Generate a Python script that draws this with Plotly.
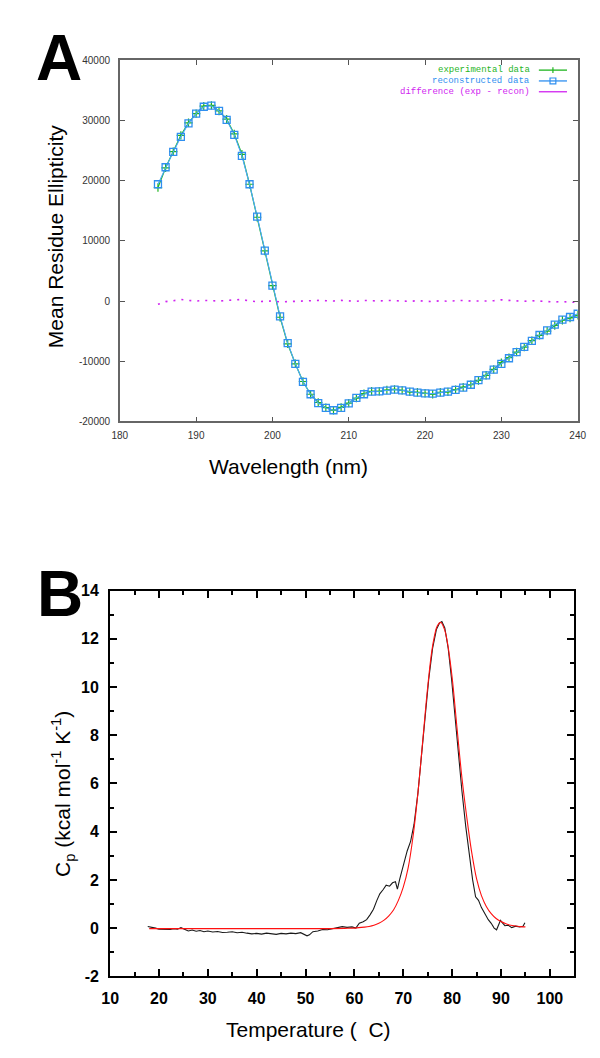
import plotly.graph_objects as go

# ---------------- Panel A data (CD spectrum) ----------------
wavelength = list(range(185, 241))
recon = [19400, 22230, 24780, 27280, 29510, 31140, 32280, 32450, 31580, 30110,
         27610, 24130, 19400, 14020, 8370, 2550, -2550, -7010, -10430, -13420,
         -15490, -16960, -17770, -18150, -17770, -17010, -16090, -15490, -15050, -15000,
         -14890, -14730, -14840, -15050, -15220, -15330, -15380, -15220, -15050, -14780,
         -14400, -13910, -13150, -12340, -11410, -10430, -9510, -8480, -7610, -6630,
         -5650, -4890, -3910, -3100, -2660, -2120]
difference = [-550, -100, 50, 250, 100, 0, 100, 50, 0, 100,
              150, 250, 0, -100, -50, 0, -150, -100, 0, 50,
              0, 100, 50, 0, 100, 50, -50, 100, 50, 0,
              100, 50, 0, -50, 50, 0, -100, 50, -50, 50,
              100, 0, -50, 0, 50, 200, 100, 0, -50, 50,
              -50, -100, -150, -100, -150, -250]
experimental = [18850, 22130, 24830, 27530, 29610, 31140, 32380, 32500, 31580, 30210,
                27760, 24380, 19400, 13920, 8320, 2550, -2700, -7110, -10430, -13370,
                -15490, -16860, -17720, -18150, -17670, -16960, -16140, -15390, -15000, -15000,
                -14790, -14680, -14840, -15100, -15170, -15330, -15480, -15170, -15100, -14730,
                -14300, -13910, -13200, -12340, -11360, -10230, -9410, -8480, -7660, -6580,
                -5700, -4990, -4060, -3200, -2810, -2370]

a_xticks = [180, 190, 200, 210, 220, 230, 240]
a_yticks = [-20000, -10000, 0, 10000, 20000, 30000, 40000]
a_yticklabels = ["-20000", "-10000", "0", "10000", "20000", "30000", "40000"]

# ---------------- Panel B data (DSC) ----------------
temp_exp = [17.7, 18.5, 19.3, 20.0, 20.8, 21.5, 22.3, 23.0, 23.8, 24.5, 25.3, 26.0, 26.8, 27.6,
            28.4, 29.2, 30.0, 31.0, 32.0, 33.0, 34.0, 35.0, 36.0, 37.0, 38.0, 39.0, 40.0, 41.0,
            42.0, 43.0, 44.0, 45.0, 46.0, 47.0, 48.0, 49.0, 49.8, 50.3, 50.8, 51.5, 52.5, 53.5,
            54.5, 55.5, 56.5, 57.5, 58.5, 59.5, 60.3, 61.0, 61.8, 62.5, 63.2, 63.9, 64.6, 65.2,
            65.9, 66.5, 67.2, 67.8, 68.4, 68.8, 69.3, 70.0, 70.8, 71.5, 72.2, 73.0, 73.8, 74.5,
            75.2, 76.0, 76.8, 77.4, 77.9, 78.5, 79.2, 79.9, 80.6, 81.3, 82.0, 82.8, 83.5, 84.2,
            84.8, 85.4, 86.0, 86.7, 87.4, 88.0, 88.6, 89.1, 89.5, 89.9, 90.3, 90.8, 91.5, 92.2,
            93.0, 93.8, 94.5, 94.9]
cp_exp = [0.07, 0.05, 0.0, -0.05, -0.06, -0.04, -0.06, -0.03, -0.05, 0.02, -0.06, -0.12, -0.08, -0.13,
          -0.10, -0.15, -0.12, -0.16, -0.14, -0.18, -0.17, -0.15, -0.19, -0.17, -0.21, -0.24, -0.22, -0.25,
          -0.21, -0.24, -0.26, -0.22, -0.24, -0.21, -0.23, -0.19, -0.25, -0.32, -0.28, -0.15, -0.12, -0.06,
          -0.07, -0.02, 0.0, 0.06, 0.03, 0.05, 0.0, 0.20, 0.26, 0.35, 0.55, 0.78, 1.15, 1.42,
          1.60, 1.78, 1.74, 1.88, 1.92, 1.62, 2.05, 2.60, 3.20, 3.60, 4.30, 5.60, 7.30, 8.90,
          10.3, 11.6, 12.4, 12.65, 12.72, 12.45, 11.6, 10.3, 8.7, 7.1, 5.7, 4.2, 3.0, 2.0,
          1.30, 1.15, 0.85, 0.60, 0.35, 0.20, 0.0, -0.07, 0.10, 0.32, 0.22, 0.10, 0.12, 0.02,
          0.08, 0.05, 0.08, 0.22]
temp_fit = [18, 25, 30, 35, 40, 45, 50, 55, 58, 60, 62, 63, 64, 65, 66, 67, 68, 69, 70, 71, 72, 73,
            74, 75, 76, 77, 77.7, 78.5, 79, 80, 81, 82, 83, 84, 85, 86, 87, 88, 89, 90, 91, 92,
            93, 94, 95]
cp_fit = [-0.02, -0.02, -0.02, -0.02, -0.02, -0.02, -0.02, -0.02, -0.01, 0.0, 0.04, 0.07, 0.12, 0.2,
          0.32, 0.5, 0.75, 1.15, 1.7, 2.5, 3.8, 5.6, 7.8, 10.0, 11.7, 12.55, 12.68, 12.35, 11.9,
          10.4, 8.3, 6.25, 4.6, 3.15, 2.05, 1.35, 0.9, 0.6, 0.4, 0.27, 0.18, 0.12, 0.09, 0.06, 0.05]

b_xticks = [10, 20, 30, 40, 50, 60, 70, 80, 90, 100]
b_yticks = [-2, 0, 2, 4, 6, 8, 10, 12, 14]
b_yticklabels = ["-2", "0", "2", "4", "6", "8", "10", "12", "14"]

# ---------------- styles ----------------
W, H = 600, 1058
GREEN = "#1fb51f"
BLUE = "#2f8ff0"
BLUE_LINE = "#4aa6ff"
MAGENTA = "#d024f0"

def px(x):
    return x / W

def py(y):
    return 1 - y / H

fig = go.Figure()

fig.add_trace(go.Scatter(x=wavelength, y=experimental, mode="lines+markers",
                         line=dict(color=GREEN, width=1.2),
                         marker=dict(symbol="cross-thin", size=6, color=GREEN,
                                     line=dict(color=GREEN, width=1.2)),
                         xaxis="x", yaxis="y", showlegend=False))
fig.add_trace(go.Scatter(x=wavelength, y=recon, mode="lines+markers",
                         line=dict(color=BLUE_LINE, width=1.1),
                         marker=dict(symbol="square-open", size=7, color=BLUE,
                                     line=dict(color=BLUE, width=1.3)),
                         xaxis="x", yaxis="y", showlegend=False))
fig.add_trace(go.Scatter(x=wavelength, y=difference, mode="lines",
                         line=dict(color=MAGENTA, width=1.6, dash="2px,6px"),
                         xaxis="x", yaxis="y", showlegend=False))

fig.add_trace(go.Scatter(x=temp_exp, y=cp_exp, mode="lines",
                         line=dict(color="#1a1a1a", width=1.1),
                         xaxis="x2", yaxis="y2", showlegend=False))
fig.add_trace(go.Scatter(x=temp_fit, y=cp_fit, mode="lines", line_shape="spline",
                         line=dict(color="#ff1010", width=1.1),
                         xaxis="x2", yaxis="y2", showlegend=False))

a_tickfont = dict(family="Liberation Sans", size=10, color="#333333")
b_tickfont = dict(family="Liberation Sans", size=16, color="#000000", weight="bold")

fig.update_layout(
    width=W, height=H, margin=dict(l=0, r=0, t=0, b=0),
    paper_bgcolor="white", plot_bgcolor="white", showlegend=False,
    xaxis=dict(domain=[px(106), px(578)], anchor="y", range=[180, 240],
               tickvals=a_xticks, ticks="inside", ticklen=5, tickcolor="#555",
               showline=True, linecolor="#666", linewidth=1.5, mirror="allticks",
               showgrid=False, zeroline=False, tickfont=a_tickfont, ticklabelstandoff=4),
    yaxis=dict(domain=[py(412), py(45)], anchor="x", range=[-20000, 40000],
               tickvals=a_yticks, ticktext=a_yticklabels, ticks="inside", ticklen=5,
               tickcolor="#555", showline=True, linecolor="#666", linewidth=1.5,
               mirror="allticks", showgrid=False, zeroline=False, tickfont=a_tickfont,
               ticklabelstandoff=6),
    xaxis2=dict(domain=[px(96), px(574)], anchor="y2", range=[10, 104.9],
                tickvals=b_xticks, ticks="inside", ticklen=7, tickwidth=2, tickcolor="#000",
                showline=True, linecolor="#000", linewidth=2, mirror="allticks",
                showgrid=False, zeroline=False, tickfont=b_tickfont, ticklabelstandoff=6,
                minor=dict(dtick=5, tick0=0, ticks="inside", ticklen=4, tickwidth=2,
                           tickcolor="#000", showgrid=False)),
    yaxis2=dict(domain=[py(976), py(584)], anchor="x2", range=[-2, 14],
                tickvals=b_yticks, ticktext=b_yticklabels, ticks="inside", ticklen=7,
                tickwidth=2, tickcolor="#000", showline=True, linecolor="#000",
                linewidth=2, mirror="allticks", showgrid=False, zeroline=False,
                tickfont=b_tickfont, ticklabelstandoff=6,
                minor=dict(dtick=1, tick0=0, ticks="inside", ticklen=4, tickwidth=2,
                           tickcolor="#000", showgrid=False)),
)

ann = []
# Panel letters
ann.append(dict(text="<b>A</b>", x=px(43), y=py(43), xref="paper", yref="paper",
                showarrow=False, font=dict(family="Liberation Sans", size=64, color="black"),
                xanchor="center", yanchor="middle"))
ann.append(dict(text="<b>B</b>", x=px(44), y=py(587), xref="paper", yref="paper",
                showarrow=False, font=dict(family="Liberation Sans", size=64, color="black"),
                xanchor="center", yanchor="middle"))
# Axis titles
title_font = dict(family="Liberation Sans", size=21, color="black")
ann.append(dict(text="Mean Residue Ellipticity", x=px(40), y=py(224), xref="paper",
                yref="paper", showarrow=False, textangle=-90, font=title_font,
                xanchor="center", yanchor="middle"))
ann.append(dict(text="Wavelength (nm)", x=px(280), y=py(458), xref="paper", yref="paper",
                showarrow=False, font=title_font, xanchor="center", yanchor="middle"))
ann.append(dict(text="C<sub>p</sub> (kcal mol<sup>-1</sup> K<sup>-1</sup>)", x=px(47),
                y=py(791), xref="paper", yref="paper", showarrow=False, textangle=-90,
                font=title_font, xanchor="center", yanchor="middle"))
ann.append(dict(text="Temperature (\u00a0\u00a0C)", x=px(301), y=py(1030), xref="paper",
                yref="paper", showarrow=False, font=title_font, xanchor="center",
                yanchor="middle"))

# Legend (gnuplot style: text then sample)
legend_items = [("experimental data", GREEN, 55), ("reconstructed data", BLUE, 66),
                ("difference (exp - recon)", MAGENTA, 77)]
shapes = []
for label, col, yy in legend_items:
    ann.append(dict(text=label, x=px(531), y=py(yy), xref="paper", yref="paper",
                    showarrow=False, xanchor="right", yanchor="middle",
                    font=dict(family="Liberation Mono", size=9, color=col)))
    shapes.append(dict(type="line", xref="paper", yref="paper", x0=px(538), x1=px(567),
                       y0=py(yy), y1=py(yy), line=dict(color=col, width=1.3)))
# legend sample markers
shapes.append(dict(type="line", xref="paper", yref="paper", x0=px(552.5), x1=px(552.5),
                   y0=py(52), y1=py(58), line=dict(color=GREEN, width=1.2)))
shapes.append(dict(type="rect", xref="paper", yref="paper", x0=px(549.5), x1=px(555.5),
                   y0=py(63), y1=py(69), line=dict(color=BLUE, width=1.2)))

fig.update_layout(annotations=ann, shapes=shapes)

fig.write_html("out.html")
